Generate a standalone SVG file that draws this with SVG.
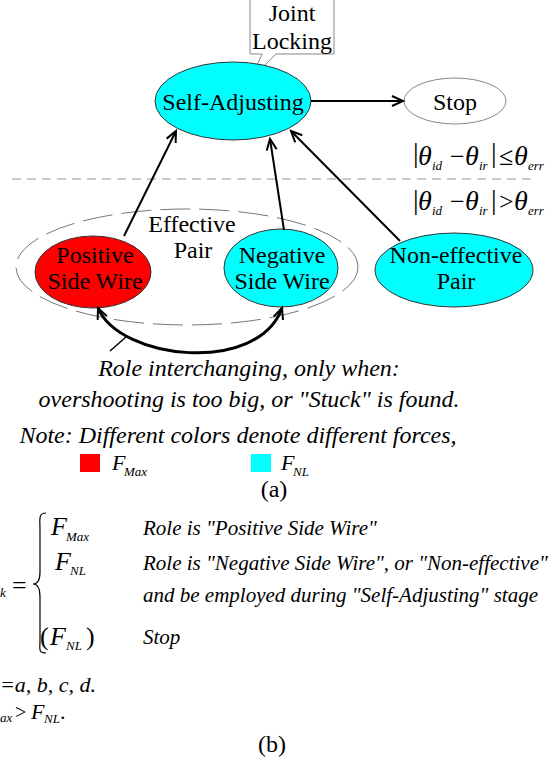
<svg xmlns="http://www.w3.org/2000/svg" width="554" height="759" viewBox="0 0 554 759" font-family="'Liberation Serif', 'Times New Roman', serif">
<style>
text{font-family:"Liberation Serif","Times New Roman",serif;fill:#000}
.n{font-size:24px;text-anchor:middle}
.it{font-style:italic}
.sub{font-style:italic;font-size:13px}
.th{font-style:italic;font-size:28px}
.bar{font-size:28px}
.c{stroke:#000;stroke-width:2;fill:none}
.rb{font-style:italic;font-size:21px}
</style>
<defs>
<marker id="ah" markerUnits="userSpaceOnUse" markerWidth="16" markerHeight="16" refX="12" refY="6" orient="auto-start-reverse" viewBox="0 0 16 12">
<path d="M1,1 L12,6 L1,11" fill="none" stroke="#000" stroke-width="2"/>
</marker>
</defs>
<rect width="554" height="759" fill="#fff"/>

<g id="dashline"><line x1="12" y1="179" x2="535" y2="179" stroke="#bbb" stroke-width="1.5" stroke-dasharray="9 6"/></g>

<g id="effective-pair">
<ellipse cx="187" cy="267" rx="171" ry="58" fill="none" stroke="#777" stroke-width="1" stroke-dasharray="30 9"/>
<text class="n" x="192" y="232">Effective</text>
<text class="n" x="193" y="258">Pair</text>
</g>

<g id="joint-locking">
<path d="M250,-1 L334,-1 L334,54 L276,54 L251,79 L262,54 L250,54 Z" fill="#fff" stroke="#888" stroke-width="1"/>
<text class="n" x="292" y="21">Joint</text>
<text class="n" x="292" y="49">Locking</text>
</g>

<g id="self-adjusting">
<ellipse cx="233" cy="101" rx="78" ry="39" fill="#00ffff" stroke="#333" stroke-width="1"/>
<text class="n" x="233" y="110">Self-Adjusting</text>
</g>

<g id="stop">
<ellipse cx="455" cy="101" rx="51" ry="23" fill="#fff" stroke="#888" stroke-width="1"/>
<text class="n" x="455" y="110">Stop</text>
</g>

<g id="positive">
<ellipse cx="93" cy="272" rx="58" ry="36" fill="#ff0000" stroke="#333" stroke-width="1"/>
<text class="n" x="95" y="263">Positive</text>
<text class="n" x="95" y="289">Side Wire</text>
</g>

<g id="negative">
<ellipse cx="281" cy="268" rx="57" ry="39" fill="#00ffff" stroke="#333" stroke-width="1"/>
<text class="n" x="282" y="263">Negative</text>
<text class="n" x="282" y="289">Side Wire</text>
</g>

<g id="non-effective">
<ellipse cx="454" cy="270" rx="79" ry="37" fill="#00ffff" stroke="#333" stroke-width="1"/>
<text class="n" x="456" y="263">Non-effective</text>
<text class="n" x="456" y="289">Pair</text>
</g>

<g id="connectors">
<line class="c" x1="311" y1="101" x2="403" y2="101" marker-end="url(#ah)"/>
<line class="c" x1="124" y1="236" x2="176" y2="131" marker-end="url(#ah)"/>
<line class="c" x1="284" y1="230" x2="270" y2="139" marker-end="url(#ah)"/>
<line class="c" x1="400" y1="241" x2="291" y2="131" marker-end="url(#ah)"/>
<path d="M98,308 C120,360 258,375 282,308" fill="none" stroke="#000" stroke-width="3" marker-start="url(#ah)" marker-end="url(#ah)"/>
<line x1="126" y1="337" x2="110" y2="351" stroke="#000" stroke-width="1.5"/>
</g>

<g id="cond1">
<text class="bar" x="413" y="162">|</text>
<text class="th" x="418" y="165">θ</text>
<text class="sub" x="432" y="170" font-size="15">id</text>
<text x="450" y="165" font-size="26">−</text>
<text class="th" x="465" y="165">θ</text>
<text class="sub" x="479" y="170" font-size="15">ir</text>
<text class="bar" x="491" y="162">|</text>
<text x="499" y="165" font-size="26">≤</text>
<text class="th" x="514" y="165">θ</text>
<text class="sub" x="528" y="170" font-size="15">err</text>
</g>
<g id="cond2">
<text class="bar" x="413" y="209">|</text>
<text class="th" x="418" y="210">θ</text>
<text class="sub" x="432" y="215" font-size="15">id</text>
<text x="450" y="210" font-size="26">−</text>
<text class="th" x="465" y="210">θ</text>
<text class="sub" x="479" y="215" font-size="15">ir</text>
<text class="bar" x="491" y="209">|</text>
<text x="499" y="210" font-size="26">&gt;</text>
<text class="th" x="514" y="210">θ</text>
<text class="sub" x="528" y="215" font-size="15">err</text>
</g>

<g id="notes">
<text class="n it" x="249" y="376">Role interchanging, only when:</text>
<text class="n it" x="249" y="407">overshooting is too big, or "Stuck" is found.</text>
<text class="n it" x="238" y="443">Note: Different colors denote different forces,</text>
<rect x="80" y="454" width="20" height="18" fill="#ff0000"/>
<text class="it" x="112" y="470" font-size="22">F</text>
<text class="sub" x="124" y="476">Max</text>
<rect x="251" y="454" width="20" height="18" fill="#00ffff"/>
<text class="it" x="281" y="470" font-size="22">F</text>
<text class="sub" x="293" y="476">NL</text>
<text class="n" x="274" y="497" font-size="22">(a)</text>
</g>

<g id="part-b">
<text class="sub" x="0" y="597" font-size="14">k</text>
<text x="12" y="594" font-size="26">=</text>
<path d="M46,513 C38,513 40,520 40,530 L40,572 C40,580 38,584 33,584 C38,584 40,589 40,597 L40,641 C40,649 38,653 46,653" fill="none" stroke="#000" stroke-width="1.2"/>
<text class="it" x="51" y="535" font-size="26">F</text>
<text class="sub" x="66" y="541" font-size="14">Max</text>
<text class="it" x="55" y="570" font-size="26">F</text>
<text class="sub" x="70" y="575" font-size="14">NL</text>
<text x="40" y="645" font-size="26">(</text>
<text class="it" x="50" y="645" font-size="26">F</text>
<text class="sub" x="66" y="650" font-size="14">NL</text>
<text x="86" y="645" font-size="26">)</text>
<text class="rb" x="143" y="535">Role is "Positive Side Wire"</text>
<text class="rb" x="143" y="570">Role is "Negative Side Wire", or "Non-effective"</text>
<text class="rb" x="143" y="602">and be employed during "Self-Adjusting" stage</text>
<text class="rb" x="143" y="644">Stop</text>
<text class="it" x="0" y="692" font-size="22">=a, b, c, d.</text>
<text class="sub" x="0" y="722" font-size="12">ax</text>
<text x="15" y="719" font-size="20">&gt;</text>
<text class="it" x="31" y="719" font-size="22">F</text>
<text class="sub" x="44" y="723" font-size="12">NL</text>
<text x="60" y="719" font-size="22">.</text>
<text class="n" x="272" y="752" font-size="22">(b)</text>
</g>
</svg>
